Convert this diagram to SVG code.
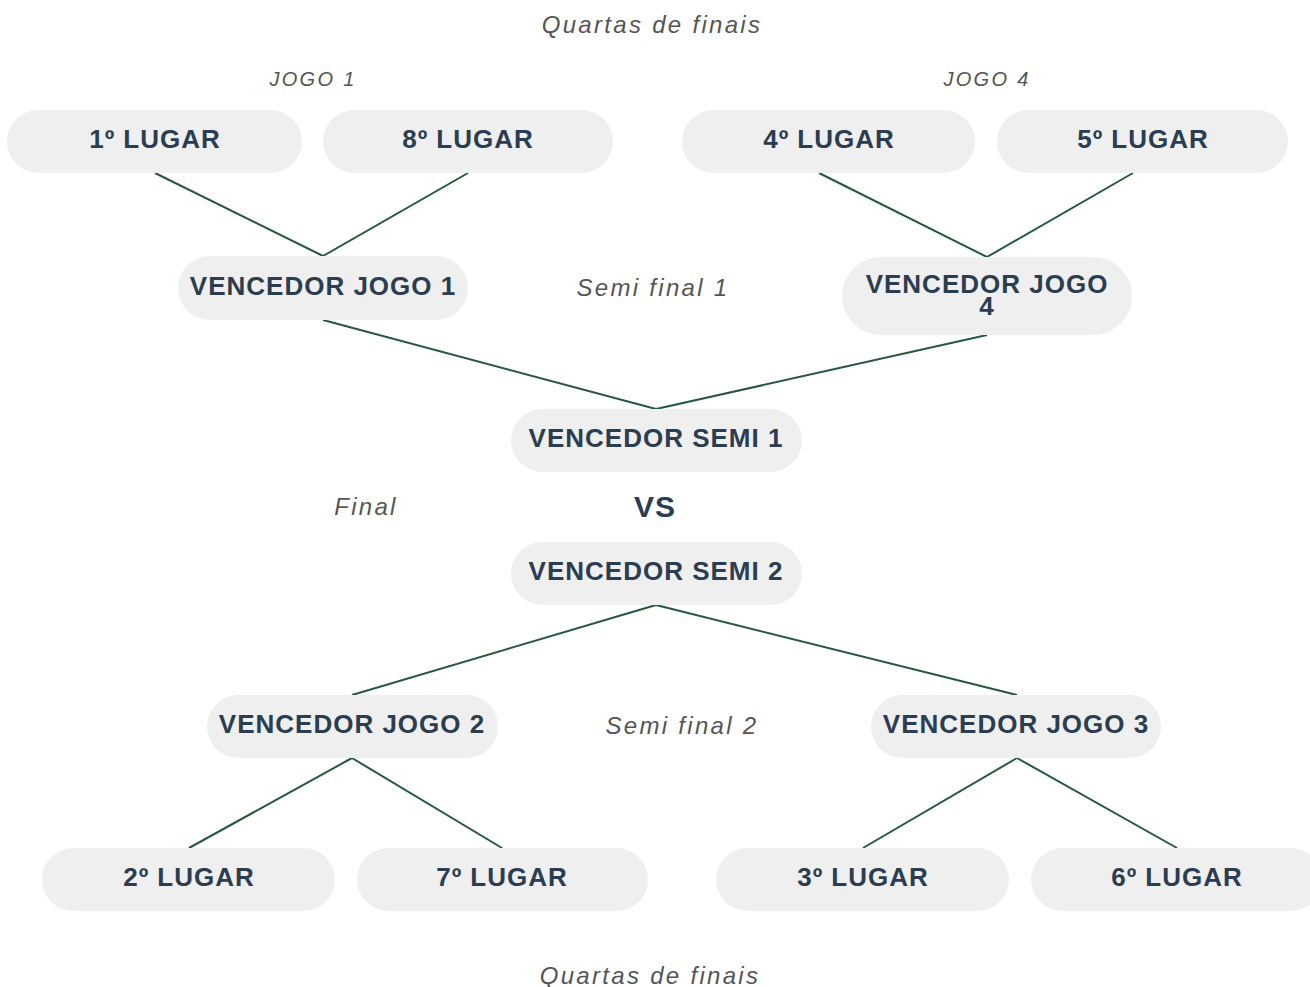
<svg xmlns="http://www.w3.org/2000/svg" width="1310" height="987" viewBox="0 0 1310 987">
<style>
.n{fill:#efefef}
.t{font-family:"Liberation Sans",Arial,sans-serif;font-weight:bold;font-size:26px;fill:#2b3d51;text-anchor:middle;letter-spacing:1px}
.l{font-family:"Liberation Sans",Arial,sans-serif;font-style:italic;font-size:24px;fill:#555;text-anchor:middle;letter-spacing:2.3px}
.s{font-size:20px}
.c line{stroke:#25593b;stroke-width:2}
</style>
<rect width="1310" height="987" fill="#fff"/>
<g class="c" id="connectors">
<line x1="155" y1="173" x2="323" y2="256"/>
<line x1="468" y1="173" x2="323" y2="256"/>
<line x1="819" y1="173" x2="987" y2="257"/>
<line x1="1133" y1="173" x2="987" y2="257"/>
<line x1="323" y1="320" x2="656" y2="409"/>
<line x1="987" y1="335" x2="656" y2="409"/>
<line x1="656" y1="605" x2="352" y2="695"/>
<line x1="656" y1="605" x2="1017" y2="695"/>
<line x1="352" y1="758" x2="189" y2="848"/>
<line x1="352" y1="758" x2="502" y2="848"/>
<line x1="1017" y1="758" x2="863" y2="848"/>
<line x1="1017" y1="758" x2="1177" y2="848"/>
</g>
<g id="labels">
<text class="l" x="652" y="33">Quartas de finais</text>
<text class="l s" x="313" y="86">JOGO 1</text>
<text class="l s" x="987" y="86">JOGO 4</text>
<text class="l" x="653" y="296">Semi final 1</text>
<text class="l" x="366" y="515">Final</text>
<text class="l" x="682" y="734">Semi final 2</text>
<text class="l" x="650" y="984">Quartas de finais</text>
<text class="t" x="655" y="517" style="font-size:30px">VS</text>
</g>
<g id="n1"><rect class="n" x="7" y="110" width="295" height="63" rx="31.5"/><text class="t" x="155" y="148">1º LUGAR</text></g>
<g id="n8"><rect class="n" x="323" y="110" width="290" height="63" rx="31.5"/><text class="t" x="468" y="148">8º LUGAR</text></g>
<g id="n4"><rect class="n" x="682" y="110" width="293" height="63" rx="31.5"/><text class="t" x="829" y="148">4º LUGAR</text></g>
<g id="n5"><rect class="n" x="997" y="110" width="291" height="63" rx="31.5"/><text class="t" x="1143" y="148">5º LUGAR</text></g>
<g id="vj1"><rect class="n" x="178" y="256" width="290" height="64" rx="32"/><text class="t" x="323" y="295">VENCEDOR JOGO 1</text></g>
<g id="vj4"><rect class="n" x="842" y="257" width="290" height="78" rx="39"/><text class="t" x="987" y="293">VENCEDOR JOGO<tspan x="987" dy="22">4</tspan></text></g>
<g id="vs1"><rect class="n" x="511" y="409" width="291" height="63" rx="31.5"/><text class="t" x="656" y="447">VENCEDOR SEMI 1</text></g>
<g id="vs2"><rect class="n" x="511" y="542" width="291" height="63" rx="31.5"/><text class="t" x="656" y="580">VENCEDOR SEMI 2</text></g>
<g id="vj2"><rect class="n" x="207" y="695" width="291" height="63" rx="31.5"/><text class="t" x="352" y="733">VENCEDOR JOGO 2</text></g>
<g id="vj3"><rect class="n" x="871" y="695" width="290" height="63" rx="31.5"/><text class="t" x="1016" y="733">VENCEDOR JOGO 3</text></g>
<g id="n2"><rect class="n" x="42" y="848" width="293" height="63" rx="31.5"/><text class="t" x="189" y="886">2º LUGAR</text></g>
<g id="n7"><rect class="n" x="357" y="848" width="291" height="63" rx="31.5"/><text class="t" x="502" y="886">7º LUGAR</text></g>
<g id="n3"><rect class="n" x="716" y="848" width="293" height="63" rx="31.5"/><text class="t" x="863" y="886">3º LUGAR</text></g>
<g id="n6"><rect class="n" x="1031" y="848" width="291" height="63" rx="31.5"/><text class="t" x="1177" y="886">6º LUGAR</text></g>
</svg>
